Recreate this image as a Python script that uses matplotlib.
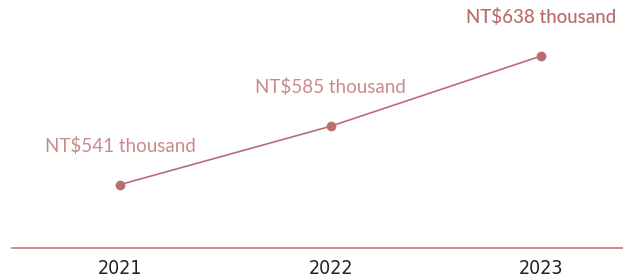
import matplotlib.pyplot as plt

years = ["2021", "2022", "2023"]
income = [541, 585, 638]
labels = ["NT$541 thousand", "NT$585 thousand", "NT$638 thousand"]

line_col = "#b86f72"
text_col = "#c98a8c"
last_col = "#b86a6d"

fig = plt.figure(figsize=(6.23, 2.8), dpi=100)
ax = fig.add_axes([12 / 623, 32 / 280, 611 / 623, 248 / 280])

x = list(range(len(years)))
ax.plot(x, income, color=line_col, lw=1.2, marker="o", ms=6, zorder=3)

for i, (xi, v, lab) in enumerate(zip(x, income, labels)):
    last = i == len(x) - 1
    ax.annotate(lab, (xi, v), xytext=(0, 28), textcoords="offset points",
                ha="center", va="center", fontsize=13.5, family="Lato",
                color=last_col if last else text_col,
                fontweight="medium" if last else "normal")

ax.set_xlim(-0.515, 2.39)
ax.set_ylim(493.1, 680.3)

for s in ["top", "right", "left"]:
    ax.spines[s].set_visible(False)
ax.spines["bottom"].set_color("#c77576")
ax.spines["bottom"].set_linewidth(1.2)
ax.set_yticks([])
ax.set_xticks(x)
ax.set_xticklabels(years, family="DejaVu Sans", fontstretch="condensed",
                   fontsize=14, color="#222222")
ax.tick_params(axis="x", length=0, pad=8)

fig.savefig("out.png", dpi=100)
